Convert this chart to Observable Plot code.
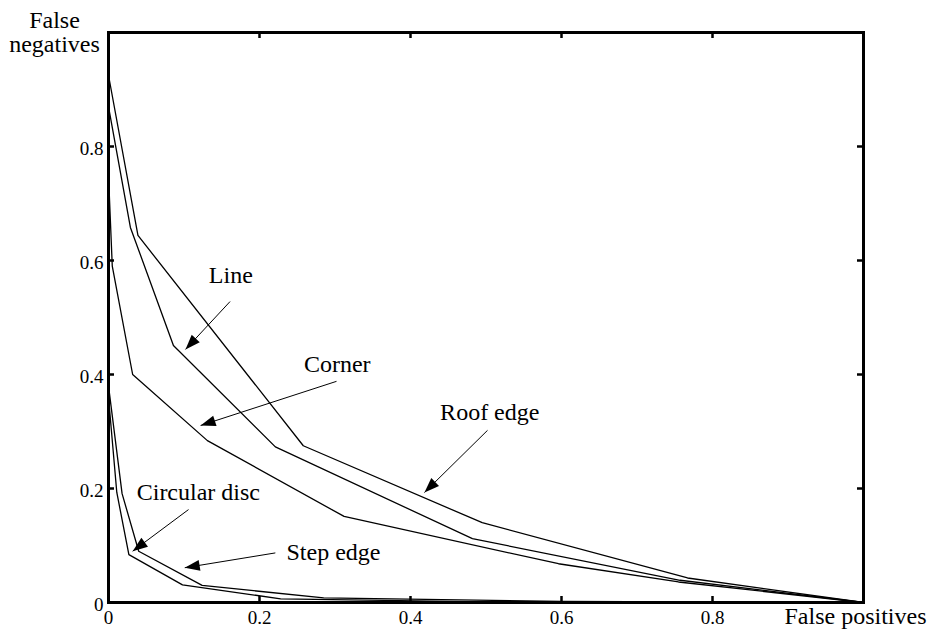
<!DOCTYPE html>
<html>
<head>
<meta charset="utf-8">
<script src="https://cdn.jsdelivr.net/npm/d3@7"></script>
<script src="https://cdn.jsdelivr.net/npm/@observablehq/plot@0.6"></script>
<style>
  html, body { margin: 0; padding: 0; background: #fff; }
  #chart { width: 930px; height: 630px; overflow: hidden; }
</style>
</head>
<body>
<div id="chart"></div>
<script>
// ---- data ----
const roofX   = [0, 0.039, 0.258, 0.495, 0.767, 1];
const roofY   = [0.925, 0.644, 0.275, 0.140, 0.043, 0];
const lineX   = [0, 0.029, 0.086, 0.221, 0.482, 0.757, 1];
const lineY   = [0.87, 0.658, 0.451, 0.273, 0.112, 0.039, 0];
const cornerX = [0, 0.005, 0.032, 0.131, 0.312, 0.596, 0.755, 1];
const cornerY = [0.75, 0.59, 0.40, 0.284, 0.151, 0.068, 0.036, 0];
const discX   = [0, 0.011, 0.027, 0.098, 0.228, 0.5, 1];
const discY   = [0.36, 0.193, 0.084, 0.031, 0.0065, 0.001, 0];
const stepX   = [0, 0.018, 0.040, 0.124, 0.285, 0.6, 1];
const stepY   = [0.38, 0.191, 0.090, 0.030, 0.008, 0.002, 0];

const xTicks = [0, 0.2, 0.4, 0.6, 0.8];
const yTicks = [0, 0.2, 0.4, 0.6, 0.8];
const innerTicks = [0.2, 0.4, 0.6, 0.8];

// annotation labels and arrows (data coordinates)
const labelText = ["Line", "Corner", "Roof edge", "Circular disc", "Step edge"];
const labelX    = [0.162, 0.303, 0.505, 0.119, 0.298];
const labelY    = [0.560, 0.405, 0.321, 0.180, 0.074];
const arrowX1   = [0.161, 0.302, 0.502, 0.106, 0.221];
const arrowY1   = [0.528, 0.388, 0.302, 0.163, 0.087];
const arrowX2   = [0.102, 0.122, 0.4185, 0.032, 0.101];
const arrowY2   = [0.444, 0.3105, 0.193, 0.090, 0.061];

const xTitle = "False positives";
const yTitle = "False negatives";

// ---- build tables ----
const series = [
  ["Roof edge", roofX, roofY],
  ["Line", lineX, lineY],
  ["Corner", cornerX, cornerY],
  ["Circular disc", discX, discY],
  ["Step edge", stepX, stepY]
];
const pts = series.flatMap(([name, xs, ys]) => xs.map((x, i) => ({name, x, y: ys[i]})));

const W = 930, H = 630, mL = 108, mR = 67, mT = 32, mB = 28;
const pw = W - mL - mR, ph = H - mT - mB;

const ann = labelText.map((t, i) => {
  const dxp = (arrowX2[i] - arrowX1[i]) * pw;
  const dyp = -(arrowY2[i] - arrowY1[i]) * ph;
  return {
    t, lx: labelX[i], ly: labelY[i],
    x1: arrowX1[i], y1: arrowY1[i], x2: arrowX2[i], y2: arrowY2[i],
    rot: Math.atan2(dxp, -dyp) * 180 / Math.PI
  };
});

const serif = "'Liberation Serif', 'DejaVu Serif', 'Noto Serif', Tinos, 'Times New Roman', serif";
const fmt = d => d === 0 ? "0" : d.toFixed(1);

const chart = Plot.plot({
  width: W, height: H,
  marginLeft: mL, marginRight: mR, marginTop: mT, marginBottom: mB,
  style: {fontFamily: serif, fontSize: "19px", color: "black", background: "white"},
  x: {domain: [0, 1], label: null},
  y: {domain: [0, 1], label: null},
  marks: [
    Plot.axisX(xTicks, {tickSize: 0, tickPadding: 8, tickFormat: fmt, fontFamily: serif, fontSize: 19, label: null}),
    Plot.axisY(yTicks, {tickSize: 0, tickPadding: 5, tickFormat: fmt, fontFamily: serif, fontSize: 19, dy: 2, label: null}),
    Plot.line(pts, {x: "x", y: "y", z: "name", stroke: "black", strokeWidth: 1.3}),
    // inward tick marks on all four sides
    Plot.tickX(innerTicks, {x: d => d, insetTop: ph - 6, stroke: "black", strokeWidth: 2.5}),
    Plot.tickX(innerTicks, {x: d => d, insetBottom: ph - 6, stroke: "black", strokeWidth: 2.5}),
    Plot.tickY(innerTicks, {y: d => d, insetRight: pw - 6, stroke: "black", strokeWidth: 2.5}),
    Plot.tickY(innerTicks, {y: d => d, insetLeft: pw - 6, stroke: "black", strokeWidth: 2.5}),
    Plot.frame({stroke: "black", strokeWidth: 3}),
    // annotations
    Plot.link(ann, {x1: "x1", y1: "y1", x2: "x2", y2: "y2", stroke: "black", strokeWidth: 1}),
    Plot.vector(ann, {x: "x2", y: "y2", rotate: "rot", length: 15, r: 5.5, shape: "spike", anchor: "end", fill: "black", stroke: "none"}),
    Plot.text(ann, {x: "lx", y: "ly", text: "t", fontFamily: serif, fontSize: 24, textAnchor: "middle", lineAnchor: "bottom", fill: "black"}),
    // axis titles
    Plot.text([xTitle], {x: 1, y: 0, text: d => d, fontFamily: serif, fontSize: 24, textAnchor: "end", lineAnchor: "bottom", dx: 63, dy: 21, fill: "black"}),
    Plot.text([yTitle.replace(" ", "\n")], {x: 0, y: 1, text: d => d, fontFamily: serif, fontSize: 24, textAnchor: "middle", lineAnchor: "middle", dx: -54, dy: 0, fill: "black"})
  ]
});
document.getElementById("chart").appendChild(chart);
</script>
</body>
</html>
